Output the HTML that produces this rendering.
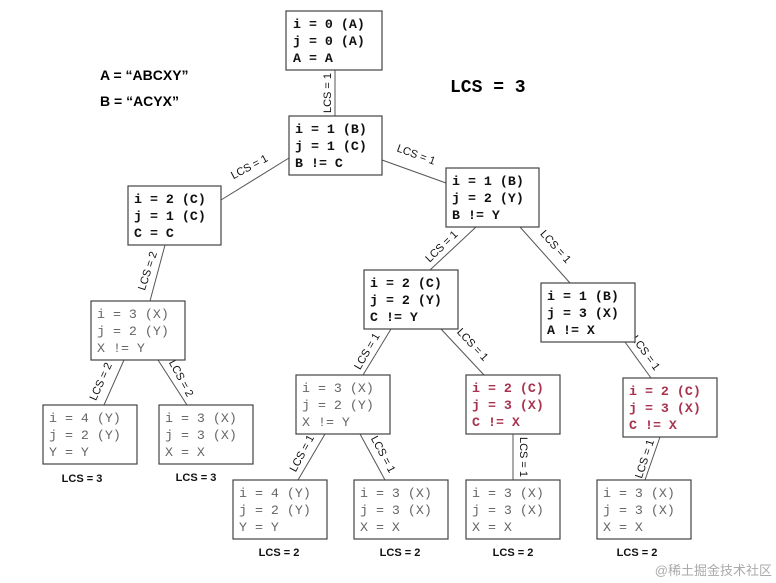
<!DOCTYPE html>
<html><head><meta charset="utf-8"><style>
html,body{margin:0;padding:0;background:#fff}
svg{display:block}
.m{font-family:"Liberation Mono",monospace;font-weight:bold;font-size:13.3px;fill:#111}
.g{font-family:"Liberation Mono",monospace;font-size:13.3px;fill:#666}
.r{font-family:"Liberation Mono",monospace;font-weight:bold;font-size:13.3px;fill:#a8334f}
.e{font-family:"Liberation Sans",sans-serif;font-size:11px;fill:#111}
.b{font-family:"Liberation Sans",sans-serif;font-weight:bold;font-size:11px;fill:#111}
rect{fill:#fff;stroke:#444;stroke-width:1.2}
line{stroke:#555;stroke-width:1}
</style></head><body>
<svg width="776" height="583" viewBox="0 0 776 583">
<g>
<line x1="335" y1="70" x2="335" y2="116"/>
<line x1="289" y1="158" x2="221" y2="200"/>
<line x1="382" y1="160" x2="446" y2="183"/>
<line x1="165" y1="245" x2="150" y2="301"/>
<line x1="124" y1="360" x2="104" y2="405"/>
<line x1="158" y1="360" x2="187" y2="405"/>
<line x1="476" y1="227" x2="430" y2="270"/>
<line x1="520" y1="227" x2="570" y2="283"/>
<line x1="391" y1="329" x2="363" y2="375"/>
<line x1="441" y1="329" x2="484" y2="375"/>
<line x1="625" y1="342" x2="651" y2="378"/>
<line x1="325" y1="434" x2="298" y2="480"/>
<line x1="360" y1="434" x2="385" y2="480"/>
<line x1="513" y1="434" x2="513" y2="480"/>
<line x1="660" y1="437" x2="645" y2="480"/>
</g>
<g class="e" text-anchor="middle">
<text transform="translate(331,93) rotate(-90)">LCS = 1</text>
<text transform="translate(251,170) rotate(-28)">LCS = 1</text>
<text transform="translate(415,158) rotate(20)">LCS = 1</text>
<text transform="translate(151,272) rotate(-72)">LCS = 2</text>
<text transform="translate(104,383) rotate(-66)">LCS = 2</text>
<text transform="translate(178,380) rotate(62)">LCS = 2</text>
<text transform="translate(444,249) rotate(-44)">LCS = 1</text>
<text transform="translate(553,249) rotate(48)">LCS = 1</text>
<text transform="translate(370,353) rotate(-60)">LCS = 1</text>
<text transform="translate(470,347) rotate(47)">LCS = 1</text>
<text transform="translate(643,355) rotate(54)">LCS = 1</text>
<text transform="translate(305,455) rotate(-62)">LCS = 1</text>
<text transform="translate(380,456) rotate(62)">LCS = 1</text>
<text transform="translate(520,457) rotate(90)">LCS = 1</text>
<text transform="translate(648,460) rotate(-72)">LCS = 1</text>
</g>
<g>
<rect x="286" y="11" width="96" height="59"/>
<text class="m" x="293" y="28">i = 0 (A)</text><text class="m" x="293" y="45">j = 0 (A)</text><text class="m" x="293" y="62">A = A</text>
<rect x="289" y="116" width="93" height="59"/>
<text class="m" x="295" y="133">i = 1 (B)</text><text class="m" x="295" y="150">j = 1 (C)</text><text class="m" x="295" y="167">B != C</text>
<rect x="446" y="168" width="93" height="59"/>
<text class="m" x="452" y="185">i = 1 (B)</text><text class="m" x="452" y="202">j = 2 (Y)</text><text class="m" x="452" y="219">B != Y</text>
<rect x="128" y="186" width="93" height="59"/>
<text class="m" x="134" y="203">i = 2 (C)</text><text class="m" x="134" y="220">j = 1 (C)</text><text class="m" x="134" y="237">C = C</text>
<rect x="91" y="301" width="94" height="59"/>
<text class="g" x="97" y="318">i = 3 (X)</text><text class="g" x="97" y="335">j = 2 (Y)</text><text class="g" x="97" y="352">X != Y</text>
<rect x="43" y="405" width="94" height="59"/>
<text class="g" x="49" y="422">i = 4 (Y)</text><text class="g" x="49" y="439">j = 2 (Y)</text><text class="g" x="49" y="456">Y = Y</text>
<rect x="159" y="405" width="94" height="59"/>
<text class="g" x="165" y="422">i = 3 (X)</text><text class="g" x="165" y="439">j = 3 (X)</text><text class="g" x="165" y="456">X = X</text>
<rect x="364" y="270" width="94" height="59"/>
<text class="m" x="370" y="287">i = 2 (C)</text><text class="m" x="370" y="304">j = 2 (Y)</text><text class="m" x="370" y="321">C != Y</text>
<rect x="541" y="283" width="94" height="59"/>
<text class="m" x="547" y="300">i = 1 (B)</text><text class="m" x="547" y="317">j = 3 (X)</text><text class="m" x="547" y="334">A != X</text>
<rect x="296" y="375" width="94" height="59"/>
<text class="g" x="302" y="392">i = 3 (X)</text><text class="g" x="302" y="409">j = 2 (Y)</text><text class="g" x="302" y="426">X != Y</text>
<rect x="466" y="375" width="94" height="59"/>
<text class="r" x="472" y="392">i = 2 (C)</text><text class="r" x="472" y="409">j = 3 (X)</text><text class="r" x="472" y="426">C != X</text>
<rect x="623" y="378" width="94" height="59"/>
<text class="r" x="629" y="395">i = 2 (C)</text><text class="r" x="629" y="412">j = 3 (X)</text><text class="r" x="629" y="429">C != X</text>
<rect x="233" y="480" width="94" height="59"/>
<text class="g" x="239" y="497">i = 4 (Y)</text><text class="g" x="239" y="514">j = 2 (Y)</text><text class="g" x="239" y="531">Y = Y</text>
<rect x="354" y="480" width="94" height="59"/>
<text class="g" x="360" y="497">i = 3 (X)</text><text class="g" x="360" y="514">j = 3 (X)</text><text class="g" x="360" y="531">X = X</text>
<rect x="466" y="480" width="94" height="59"/>
<text class="g" x="472" y="497">i = 3 (X)</text><text class="g" x="472" y="514">j = 3 (X)</text><text class="g" x="472" y="531">X = X</text>
<rect x="597" y="480" width="94" height="59"/>
<text class="g" x="603" y="497">i = 3 (X)</text><text class="g" x="603" y="514">j = 3 (X)</text><text class="g" x="603" y="531">X = X</text>
</g>
<g class="b" text-anchor="middle">
<text x="82" y="482">LCS = 3</text>
<text x="196" y="481">LCS = 3</text>
<text x="279" y="556">LCS = 2</text>
<text x="400" y="556">LCS = 2</text>
<text x="513" y="556">LCS = 2</text>
<text x="637" y="556">LCS = 2</text>
</g>
<text x="100" y="80" style="font-family:'Liberation Sans',sans-serif;font-weight:bold;font-size:14px">A = “ABCXY”</text>
<text x="100" y="106" style="font-family:'Liberation Sans',sans-serif;font-weight:bold;font-size:14px">B = “ACYX”</text>
<text x="450" y="92" style="font-family:'Liberation Mono',monospace;font-weight:bold;font-size:18px">LCS = 3</text>
<text x="772" y="575" text-anchor="end" style="font-family:'Liberation Sans','Noto Sans CJK SC',sans-serif;font-size:13px;fill:#aaa">@稀土掘金技术社区</text>
</svg>
</body></html>
